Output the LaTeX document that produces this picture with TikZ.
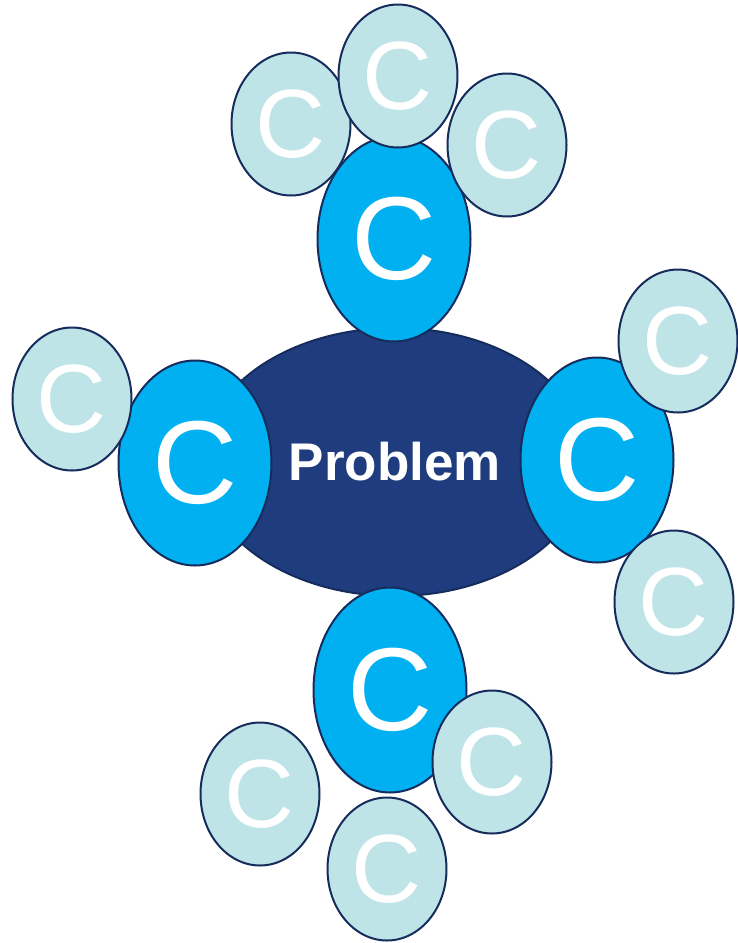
\documentclass[tikz,border=0pt]{standalone}
\usepackage{fontspec}
\setmainfont{Liberation Sans}
\usetikzlibrary{shapes.geometric}
\definecolor{problemblue}{RGB}{30,60,126}
\definecolor{rimblue}{RGB}{22,44,92}
\definecolor{causeblue}{RGB}{0,176,240}
\definecolor{subblue}{RGB}{190,228,232}

\begin{document}
\begin{tikzpicture}[x=1pt, y=-1pt,
    bubble/.style={ellipse, draw=rimblue, line width=2pt, inner sep=0pt, text=white},
    problemnode/.style={bubble, fill=problemblue, minimum width=386pt, minimum height=268pt,
      font=\fontsize{53}{60}\selectfont\bfseries},
    causenode/.style={bubble, fill=causeblue, minimum width=153pt, minimum height=205pt,
      font=\fontsize{118}{120}\selectfont},
    subnode/.style={bubble, fill=subblue, minimum width=119pt, minimum height=143pt,
      font=\fontsize{97}{100}\selectfont}]
  \useasboundingbox (0,0) rectangle (738,943);
  \newcommand{\subc}[2]{\node[subnode] (#1) at #2 {C};}%
  % problem in the middle
  \node[problemnode] (problem) at (395, 462) {Problem};
  % causes
  \node[causenode] (ctop)    at (394, 239) {C};
  \node[causenode] (cleft)   at (195, 463) {C};
  \node[causenode] (cright)  at (597, 460) {C};
  \node[causenode] (cbottom) at (390, 690) {C};
  % sub-causes
  \subc{ctopa}{(291, 124)}
  \subc{ctopc}{(507, 145)}
  \subc{ctopb}{(398, 76)}
  \subc{clefta}{(72, 399)}
  \subc{crighta}{(678, 341)}
  \subc{crightb}{(674, 602)}
  \subc{cbottoma}{(260, 794)}
  \subc{cbottomb}{(492, 762)}
  \subc{cbottomc}{(387, 869)}
\end{tikzpicture}
\end{document}
